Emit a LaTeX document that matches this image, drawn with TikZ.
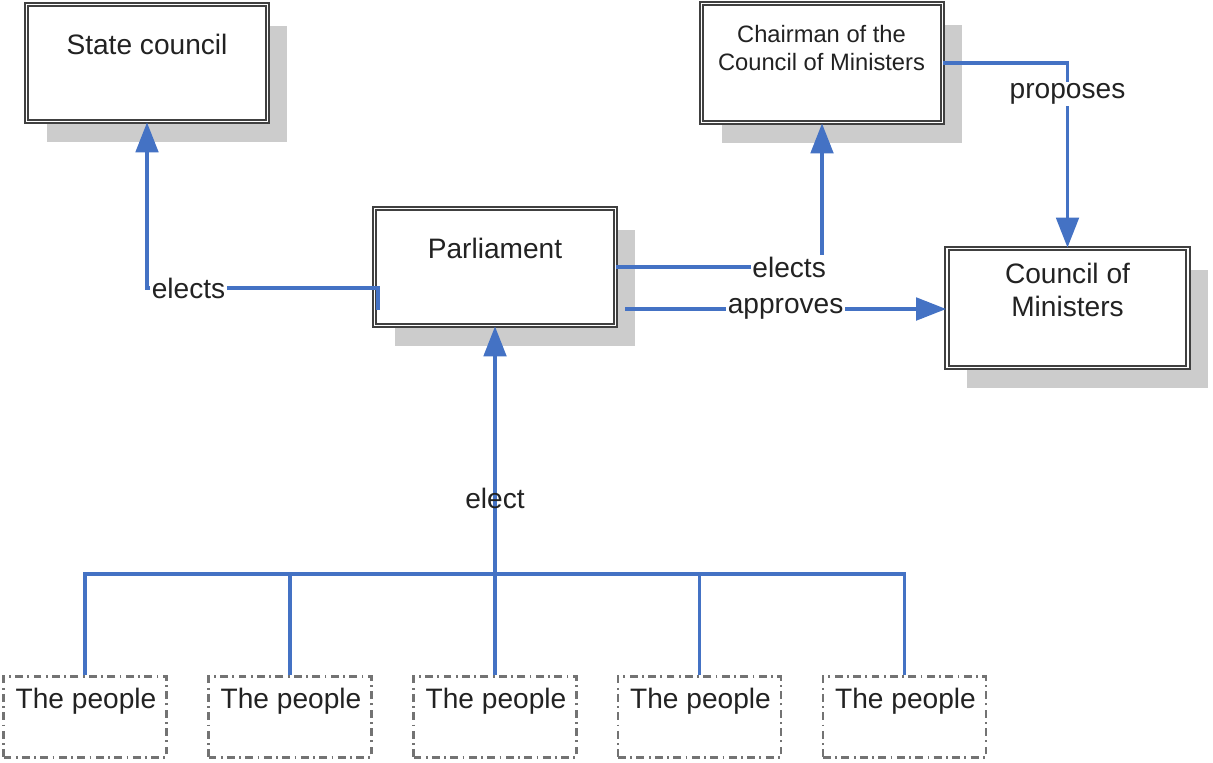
\documentclass[tikz,border=0pt]{standalone}
\usepackage{fontspec}
\setmainfont{Liberation Sans}
\usetikzlibrary{shadows,arrows.meta}
\definecolor{connc}{RGB}{68,114,196}
\definecolor{txtc}{RGB}{34,34,34}
\begin{document}
\begin{tikzpicture}[x=0.02cm,y=-0.02cm,
  box/.style={draw=black!75, double=white, line width=1pt, double distance=1pt,
    fill=white, minimum width=4.82cm, inner sep=0pt,
    drop shadow={shadow xshift=0.4cm, shadow yshift=-0.42cm, fill=black!20, opacity=1}},
  peoplebox/.style={draw=black!55, line width=1.3pt,
    dash pattern=on 4.5pt off 2.5pt on 1pt off 2.5pt,
    minimum width=3.26cm, minimum height=1.62cm, inner sep=0pt},
  txtn/.style={inner sep=0pt, text=txtc, font=\fontsize{16}{19}\selectfont},
  conn/.style={draw=connc, line width=0.07cm, -{Triangle[length=0.6cm,width=0.45cm]}},
  busline/.style={draw=connc, line width=0.07cm},
  lbl/.style={fill=white, inner sep=1pt, text=txtc, font=\fontsize{16}{19}\selectfont},
  elbl/.style={inner sep=1pt, text=txtc, font=\fontsize{16}{19}\selectfont}
]
\useasboundingbox (0,0) rectangle (1213,762);

% boxes
\node[box, minimum height=2.34cm] (SC) at (147,63) {};
\node[box, minimum height=2.34cm] (PA) at (495,267) {};
\node[box, minimum height=2.38cm] (CH) at (822,63) {};
\node[box, minimum height=2.38cm] (CM) at (1067.5,308) {};

\node[peoplebox] (PE1) at (85,717) {};
\node[peoplebox] (PE2) at (290,717) {};
\node[peoplebox] (PE3) at (495,717) {};
\node[peoplebox] (PE4) at (699.5,717) {};
\node[peoplebox] (PE5) at (904.5,717) {};

% box texts
\node[txtn, anchor=base] (tSC) at (147,54) {State council};
\node[txtn, anchor=base] (tPA) at (495,258) {Parliament};
\node[txtn, align=center, font=\fontsize{13.5}{15.9}\selectfont] (tCH) at (821.5,48) {Chairman of the\\Council of Ministers};
\node[txtn, align=center, font=\fontsize{16}{18.7}\selectfont] (tCM) at (1067.5,290) {Council of\\Ministers};
\foreach \i in {1,...,5}{
  \node[txtn, anchor=base] (tPE\i) at ([shift={(1,-9)}]PE\i.north |- 0,717) {The people};
}

% connectors
\coordinate (p1) at (378,310);
\draw[conn] (p1) -- ++(0,-22) -| node[lbl, pos=0.41] {elects} (SC.south);
\draw[conn] (PA.east) -| node[lbl, pos=0.42] {elects} (CH.south);
\coordinate (p3) at (625,309);
\draw[conn] (p3) -- node[lbl, pos=0.5] {approves} (CM.west |- p3);
\draw[conn] (CH.east) -| node[lbl, pos=0.584] {proposes} (CM.north);

\coordinate (bus) at (495,574);
\draw[busline] (PE1.north) |- (bus) -| (PE5.north);
\draw[busline] (PE2.north) -- (PE2.north |- bus);
\draw[busline] (PE4.north) -- (PE4.north |- bus);
\draw[conn] (PE3.north) -- node[elbl, pos=0.506] {elect} (PA.south);
\end{tikzpicture}
\end{document}
